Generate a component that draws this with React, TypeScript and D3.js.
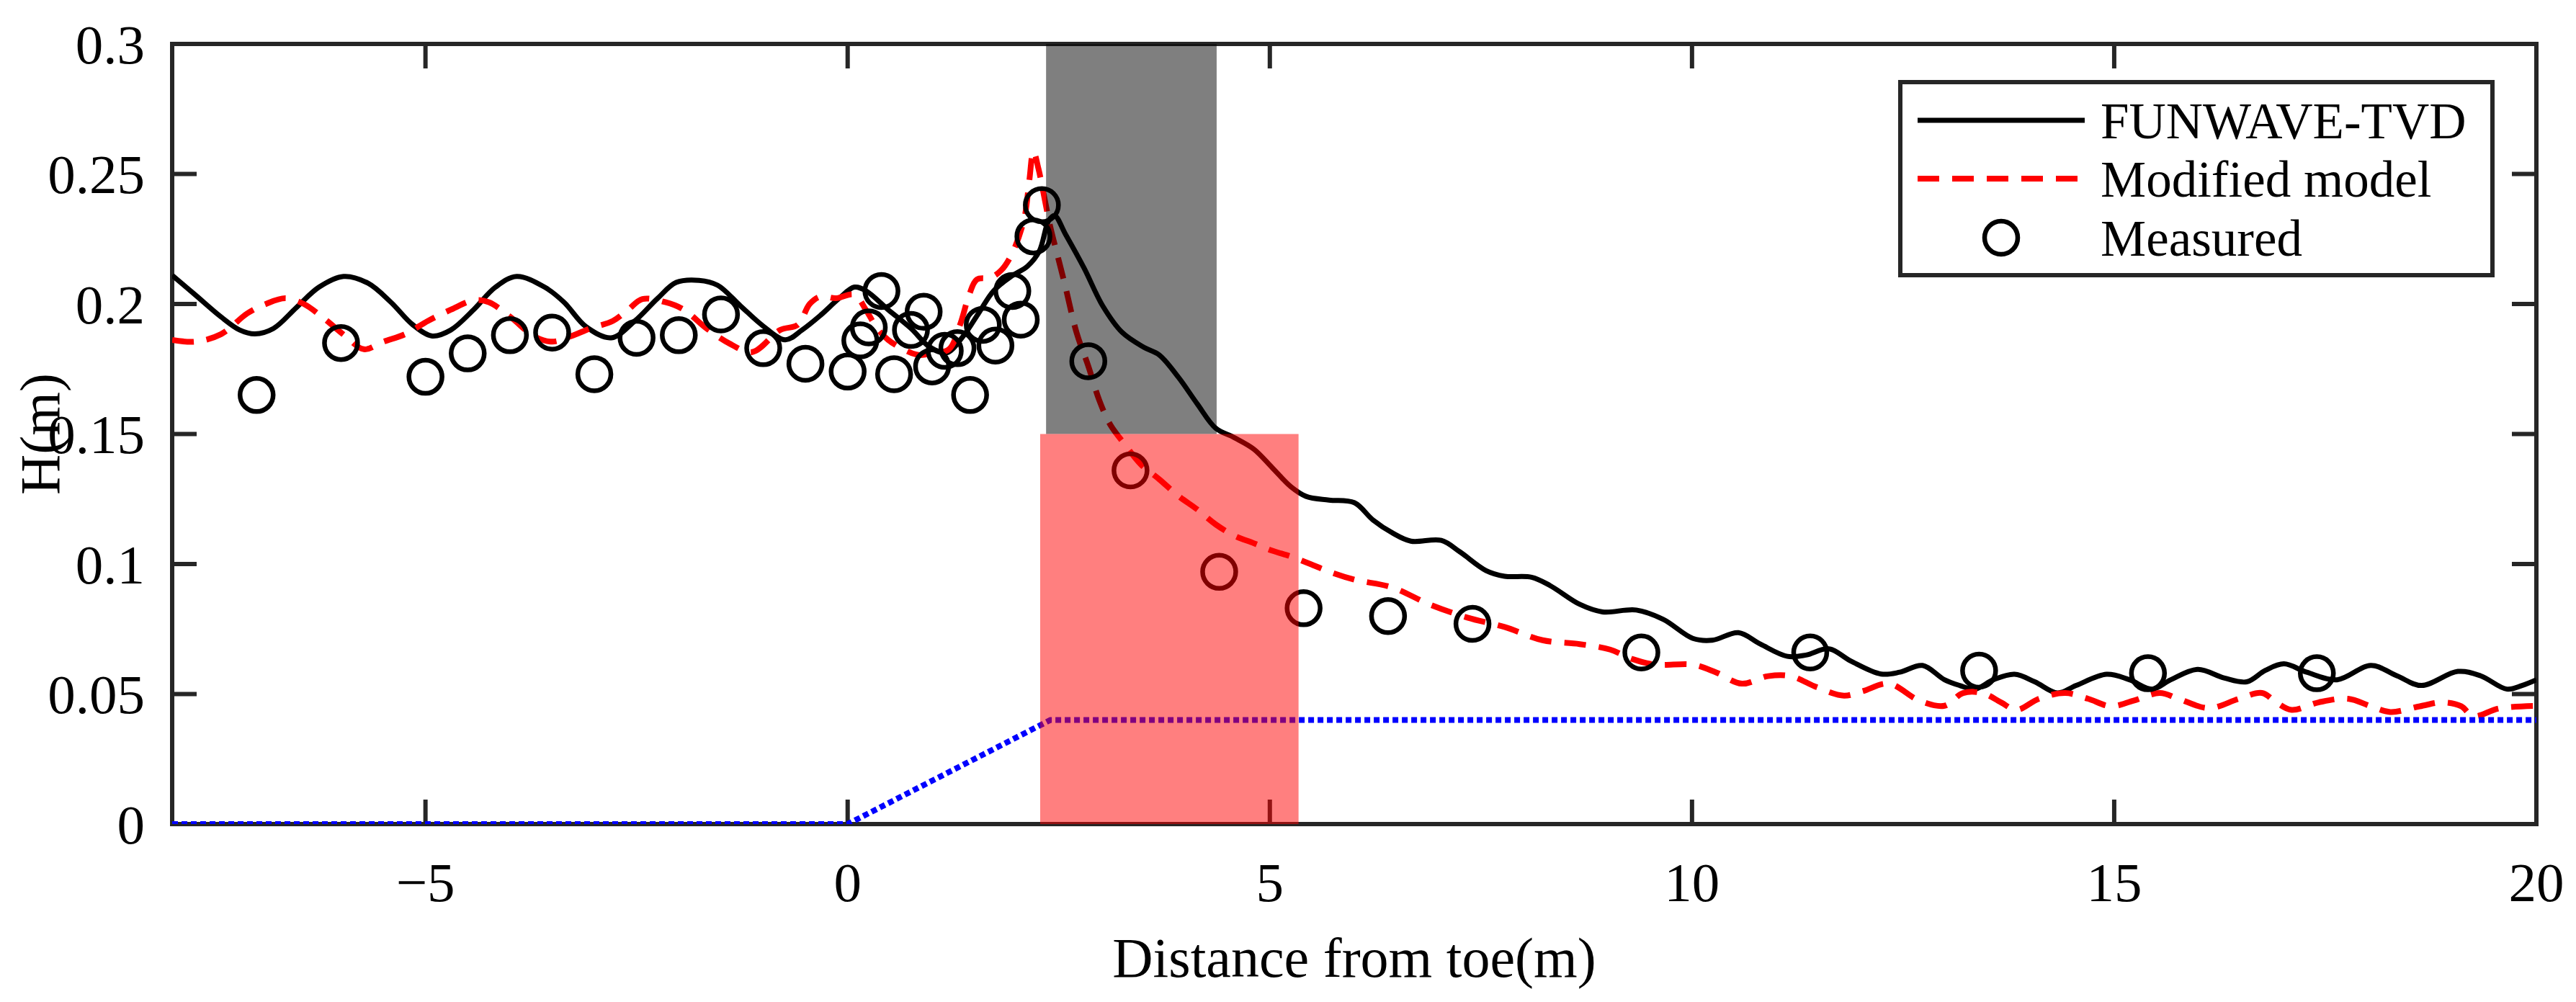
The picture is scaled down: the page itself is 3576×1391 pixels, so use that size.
import { useRef, useEffect } from 'react';
import * as d3 from 'd3';

// FUNWAVE-TVD wave height along the flume
const funwaveX = [-8, -7.73, -7.42, -7.2, -7.02, -6.8, -6.53, -6.26, -5.97, -5.68, -5.41, -5.15, -4.92, -4.7, -4.43, -4.17, -3.92, -3.59, -3.36, -3.1, -2.8, -2.52, -2.25, -2.03, -1.76, -1.54, -1.27, -1.0, -0.74, -0.54, -0.32, -0.1, 0.08, 0.22, 0.48, 0.75, 0.97, 1.17, 1.37, 1.55, 1.73, 1.95, 2.13, 2.27, 2.38, 2.45, 2.58, 2.8, 3.02, 3.25, 3.51, 3.69, 3.92, 4.14, 4.36, 4.58, 4.81, 5.03, 5.25, 5.43, 5.7, 6.0, 6.22, 6.45, 6.67, 7.03, 7.25, 7.56, 7.78, 8.1, 8.32, 8.67, 8.94, 9.34, 9.66, 10.01, 10.24, 10.55, 10.81, 11.13, 11.35, 11.62, 11.88, 12.24, 12.46, 12.73, 12.99, 13.17, 13.35, 13.57, 13.82, 14.06, 14.33, 14.55, 14.91, 15.18, 15.45, 15.67, 15.99, 16.3, 16.57, 16.79, 17.01, 17.28, 17.64, 18.04, 18.35, 18.64, 19.07, 19.34, 19.65, 19.83, 20.0];
const funwaveH = [0.211, 0.2036, 0.195, 0.19, 0.1885, 0.1906, 0.1986, 0.2065, 0.2106, 0.208, 0.2007, 0.192, 0.1877, 0.19, 0.1978, 0.2065, 0.2106, 0.2065, 0.2007, 0.1913, 0.187, 0.1935, 0.2022, 0.2083, 0.2091, 0.2072, 0.1993, 0.1915, 0.1862, 0.19, 0.1957, 0.2022, 0.2065, 0.205, 0.1978, 0.1906, 0.1835, 0.1812, 0.1877, 0.1964, 0.2051, 0.2109, 0.2145, 0.2203, 0.232, 0.234, 0.2268, 0.2138, 0.1993, 0.1891, 0.1833, 0.1804, 0.1717, 0.1616, 0.1522, 0.1486, 0.1442, 0.137, 0.1297, 0.126, 0.1246, 0.1236, 0.117, 0.112, 0.1088, 0.1091, 0.1047, 0.0975, 0.0953, 0.0949, 0.0917, 0.0845, 0.0816, 0.0823, 0.0787, 0.0714, 0.0707, 0.0736, 0.0692, 0.0645, 0.065, 0.0674, 0.0627, 0.0577, 0.0584, 0.061, 0.0555, 0.0533, 0.0519, 0.0555, 0.0576, 0.0547, 0.0504, 0.0533, 0.0576, 0.0555, 0.0519, 0.0555, 0.0595, 0.0562, 0.0547, 0.0591, 0.0616, 0.0584, 0.0555, 0.061, 0.057, 0.0533, 0.0587, 0.057, 0.0519, 0.0533, 0.0555];

// Modified model
const modelX = [-8, -7.73, -7.42, -7.11, -6.89, -6.66, -6.44, -6.22, -5.95, -5.73, -5.5, -5.24, -4.97, -4.7, -4.43, -4.25, -3.99, -3.72, -3.5, -3.27, -3.05, -2.78, -2.6, -2.43, -2.16, -1.94, -1.67, -1.4, -1.13, -0.8, -0.59, -0.45, -0.32, -0.14, 0.08, 0.215, 0.35, 0.48, 0.66, 0.84, 1.02, 1.2, 1.33, 1.44, 1.53, 1.69, 1.82, 1.95, 2.09, 2.15, 2.2, 2.26, 2.31, 2.4, 2.49, 2.58, 2.71, 2.85, 2.98, 3.11, 3.29, 3.47, 3.69, 3.92, 4.14, 4.36, 4.58, 4.81, 5.03, 5.25, 5.48, 5.7, 6.0, 6.45, 6.89, 7.34, 7.78, 8.23, 8.67, 9.03, 9.3, 9.57, 10.01, 10.28, 10.59, 10.9, 11.17, 11.48, 11.8, 12.02, 12.33, 12.69, 12.99, 13.21, 13.44, 13.66, 13.84, 14.11, 14.42, 14.69, 14.96, 15.23, 15.54, 15.76, 16.12, 16.48, 16.75, 16.92, 17.1, 17.42, 17.77, 18.04, 18.27, 18.62, 18.89, 19.11, 19.25, 19.56, 20.0];
const modelH = [0.1862, 0.1855, 0.1884, 0.1964, 0.2, 0.2022, 0.2, 0.1949, 0.1877, 0.1826, 0.1855, 0.1884, 0.1935, 0.1978, 0.2014, 0.2007, 0.1949, 0.1877, 0.1855, 0.1877, 0.1906, 0.1935, 0.1978, 0.2019, 0.2007, 0.1978, 0.1906, 0.1848, 0.1815, 0.19, 0.192, 0.2, 0.2029, 0.2022, 0.2036, 0.1978, 0.1906, 0.1862, 0.1826, 0.1804, 0.1812, 0.1826, 0.1919, 0.2036, 0.2094, 0.2101, 0.213, 0.2196, 0.2326, 0.2471, 0.2587, 0.252, 0.2442, 0.2297, 0.2181, 0.2065, 0.1891, 0.1761, 0.163, 0.1536, 0.1457, 0.1384, 0.1326, 0.1261, 0.121, 0.1152, 0.1109, 0.108, 0.1051, 0.1029, 0.1, 0.0971, 0.094, 0.091, 0.0845, 0.0794, 0.0758, 0.0707, 0.0692, 0.0671, 0.0634, 0.0613, 0.0613, 0.0584, 0.054, 0.0569, 0.0569, 0.0526, 0.0494, 0.0511, 0.054, 0.0475, 0.0455, 0.0504, 0.0504, 0.0468, 0.0439, 0.0482, 0.0504, 0.0482, 0.0453, 0.0475, 0.0504, 0.0482, 0.0446, 0.0482, 0.0504, 0.0468, 0.0439, 0.0468, 0.0482, 0.0453, 0.0431, 0.0453, 0.0468, 0.0453, 0.0415, 0.0445, 0.0455];

// Measured gauges
const measuredX = [-7, -6, -5, -4.5, -4, -3.5, -3, -2.5, -2, -1.5, -1, -0.5, 0, 0.15, 0.25, 0.4, 0.55, 0.75, 0.9, 1.0, 1.15, 1.3, 1.45, 1.6, 1.75, 1.95, 2.05, 2.2, 2.3, 2.85, 3.35, 4.4, 5.4, 6.4, 7.4, 9.4, 11.4, 13.4, 15.4, 17.4];
const measuredH = [0.165, 0.185, 0.172, 0.181, 0.188, 0.189, 0.173, 0.187, 0.188, 0.196, 0.183, 0.177, 0.174, 0.186, 0.191, 0.205, 0.173, 0.19, 0.197, 0.176, 0.182, 0.183, 0.165, 0.192, 0.184, 0.205, 0.194, 0.226, 0.238, 0.178, 0.136, 0.097, 0.083, 0.08, 0.077, 0.066, 0.066, 0.059, 0.058, 0.058];

// bed profile (toe slope then flat)
const bedX = [-8, 0, 2.4, 20];
const bedH = [0, 0, 0.04, 0.04];

// shaded zones [x0, x1, h0, h1]
const grayZone = [2.35, 4.37, 0.15, 0.3];
const redZone = [2.28, 5.34, 0, 0.15];

const xTicks = [-5, 0, 5, 10, 15, 20];
const yTicks = [0, 0.05, 0.1, 0.15, 0.2, 0.25, 0.3];
const legendLabels = ['FUNWAVE-TVD', 'Modified model', 'Measured'];

export default function App() {
    const svgRef = useRef<SVGSVGElement>(null);

    useEffect(() => {
        if (!svgRef.current) return;
        document.body.style.margin = '0';

        const width = 3576;
        const height = 1391;
        const margin = { top: 61, right: 55, bottom: 247, left: 239 };
        const innerW = width - margin.left - margin.right;
        const innerH = height - margin.top - margin.bottom;
        const axisColor = '#262626';
        const font = '"Liberation Serif", "Times New Roman", serif';

        const svg = d3.select(svgRef.current);
        svg.selectAll('*').remove();
        svg.attr('width', width).attr('height', height);

        const x = d3.scaleLinear().domain([-8, 20]).range([0, innerW]);
        const y = d3.scaleLinear().domain([0, 0.3]).range([innerH, 0]);

        svg.append('defs').append('clipPath').attr('id', 'plot-clip')
            .append('rect').attr('width', innerW).attr('height', innerH);

        const g = svg.append('g').attr('transform', `translate(${margin.left},${margin.top})`);

        // axes box + inward ticks
        g.append('rect')
            .attr('width', innerW)
            .attr('height', innerH)
            .attr('fill', 'none')
            .attr('stroke', axisColor)
            .attr('stroke-width', 6);

        const tickLen = 34;
        xTicks.forEach(t => {
            g.append('line').attr('x1', x(t)).attr('x2', x(t)).attr('y1', innerH).attr('y2', innerH - tickLen)
                .attr('stroke', axisColor).attr('stroke-width', 6);
            g.append('line').attr('x1', x(t)).attr('x2', x(t)).attr('y1', 0).attr('y2', tickLen)
                .attr('stroke', axisColor).attr('stroke-width', 6);
            g.append('text')
                .attr('x', x(t))
                .attr('y', innerH + 107)
                .attr('text-anchor', 'middle')
                .attr('font-family', font)
                .attr('font-size', 77)
                .attr('fill', '#000')
                .text(t < 0 ? `\u2212${Math.abs(t)}` : `${t}`);
        });
        yTicks.forEach(t => {
            g.append('line').attr('x1', 0).attr('x2', tickLen).attr('y1', y(t)).attr('y2', y(t))
                .attr('stroke', axisColor).attr('stroke-width', 6);
            g.append('line').attr('x1', innerW).attr('x2', innerW - tickLen).attr('y1', y(t)).attr('y2', y(t))
                .attr('stroke', axisColor).attr('stroke-width', 6);
            g.append('text')
                .attr('x', -38)
                .attr('y', y(t))
                .attr('dy', '0.35em')
                .attr('text-anchor', 'end')
                .attr('font-family', font)
                .attr('font-size', 77)
                .attr('fill', '#000')
                .text(d3.format('~g')(t));
        });

        // axis titles
        svg.append('text')
            .attr('x', margin.left + innerW / 2)
            .attr('y', 1356)
            .attr('text-anchor', 'middle')
            .attr('font-family', font)
            .attr('font-size', 78)
            .attr('fill', '#000')
            .text('Distance from toe(m)');

        svg.append('text')
            .attr('transform', `translate(82,${margin.top + innerH / 2}) rotate(-90)`)
            .attr('text-anchor', 'middle')
            .attr('font-family', font)
            .attr('font-size', 78)
            .attr('fill', '#000')
            .text('H(m)');

        const plot = g.append('g').attr('clip-path', 'url(#plot-clip)');

        const line = d3.line<[number, number]>()
            .x(d => x(d[0]))
            .y(d => y(d[1]))
            .curve(d3.curveCatmullRom);

        plot.append('path')
            .datum(funwaveX.map((v, i) => [v, funwaveH[i]] as [number, number]))
            .attr('d', line)
            .attr('fill', 'none')
            .attr('stroke', '#000')
            .attr('stroke-width', 7);

        plot.append('path')
            .datum(modelX.map((v, i) => [v, modelH[i]] as [number, number]))
            .attr('d', line)
            .attr('fill', 'none')
            .attr('stroke', '#ff0000')
            .attr('stroke-width', 8)
            .attr('stroke-dasharray', '30,18');

        plot.selectAll('circle.meas')
            .data(measuredX.map((v, i) => [v, measuredH[i]]))
            .enter()
            .append('circle')
            .attr('class', 'meas')
            .attr('cx', d => x(d[0]))
            .attr('cy', d => y(d[1]))
            .attr('r', 23)
            .attr('fill', 'none')
            .attr('stroke', '#000')
            .attr('stroke-width', 6.5);

        // shaded zones drawn over the data, semi-transparent
        g.append('rect')
            .attr('x', x(grayZone[0]))
            .attr('y', y(grayZone[3]))
            .attr('width', x(grayZone[1]) - x(grayZone[0]))
            .attr('height', y(grayZone[2]) - y(grayZone[3]))
            .attr('fill', '#000')
            .attr('fill-opacity', 0.5);

        g.append('rect')
            .attr('x', x(redZone[0]))
            .attr('y', y(redZone[3]))
            .attr('width', x(redZone[1]) - x(redZone[0]))
            .attr('height', y(redZone[2]) - y(redZone[3]))
            .attr('fill', '#ff0000')
            .attr('fill-opacity', 0.5);

        plot.append('path')
            .datum(bedX.map((v, i) => [v, bedH[i]] as [number, number]))
            .attr('d', d3.line<[number, number]>().x(d => x(d[0])).y(d => y(d[1])))
            .attr('fill', 'none')
            .attr('stroke', '#0000ff')
            .attr('stroke-width', 8)
            .attr('stroke-dasharray', '8,5');

        // legend
        const lg = svg.append('g').attr('transform', 'translate(2638,114)');
        lg.append('rect')
            .attr('width', 822)
            .attr('height', 268)
            .attr('fill', '#fff')
            .attr('stroke', axisColor)
            .attr('stroke-width', 6);

        const rowY = [53, 134, 216];
        legendLabels.forEach((label, i) => {
            lg.append('text')
                .attr('x', 278)
                .attr('y', rowY[i])
                .attr('dy', '0.35em')
                .attr('font-family', font)
                .attr('font-size', 71)
                .attr('fill', '#000')
                .text(label);
        });
        lg.append('line')
            .attr('x1', 24).attr('x2', 256).attr('y1', rowY[0]).attr('y2', rowY[0])
            .attr('stroke', '#000').attr('stroke-width', 7);
        lg.append('line')
            .attr('x1', 24).attr('x2', 256).attr('y1', rowY[1]).attr('y2', rowY[1])
            .attr('stroke', '#ff0000').attr('stroke-width', 8).attr('stroke-dasharray', '30,18');
        lg.append('circle')
            .attr('cx', 140).attr('cy', rowY[2]).attr('r', 23)
            .attr('fill', 'none').attr('stroke', '#000').attr('stroke-width', 6.5);
    }, []);

    return (
        <div style={{ width: 3576, height: 1391 }}>
            <svg ref={svgRef} style={{ display: 'block', background: '#fff' }} />
        </div>
    );
}
